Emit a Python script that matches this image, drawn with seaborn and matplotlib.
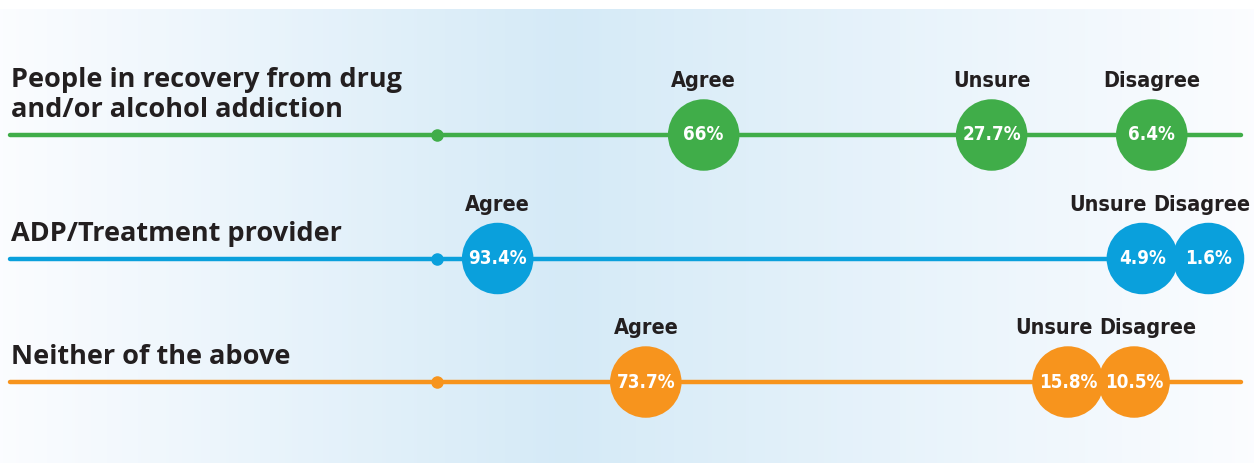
import numpy as np
import pandas as pd
import matplotlib.pyplot as plt
import seaborn as sns

# Survey results
groups = ["People in recovery from drug\nand/or alcohol addiction",
          "ADP/Treatment provider",
          "Neither of the above"]
answers = ["Agree", "Unsure", "Disagree"]
agree = [66.0, 93.4, 73.7]
unsure = [27.7, 4.9, 15.8]
disagree = [6.4, 1.6, 10.5]

colors = ["#40ad49", "#0aa0dc", "#f7941d"]
dark = "#231f20"

rows = []
for i, g in enumerate(groups):
    for a, vals in zip(answers, [agree, unsure, disagree]):
        rows.append({"row": i, "group": g, "answer": a, "value": vals[i]})
df = pd.DataFrame(rows)

# push apart circles that would overlap (value units)
min_gap = 8.8
df["pos"] = df["value"]
for i in range(len(groups)):
    sub = df[df["row"] == i].sort_values("value")
    p = sub["value"].tolist()
    idx = sub.index.tolist()
    for k in range(len(p) - 1):
        if p[k + 1] - p[k] < min_gap:
            mid = (p[k] + p[k + 1]) / 2
            p[k] = mid - min_gap / 2
            p[k + 1] = mid + min_gap / 2
    df.loc[idx, "pos"] = p

sns.set_theme(style="white")
label_font = ["DejaVu Sans"]
title_font = ["Open Sans", "DejaVu Sans"]

fig = plt.figure(figsize=(12.54, 4.66), dpi=100)
ax = fig.add_axes([0, 0, 1, 1])
ax.set_xlim(159.6, -7.2)
ax.set_ylim(2.68, -1.093)
ax.axis("off")

# background gradient band
xs = np.linspace(0, 1, 400)
peak = 0.45
w = np.where(xs < peak, xs / peak, (1 - xs) / (1 - peak))
c0 = np.array([0.985, 0.99, 1.0])
c1 = np.array([0.835, 0.918, 0.968])
grad = c0[None, :] + (c1 - c0)[None, :] * w[:, None]
ax.imshow(grad[None, :, :], extent=(159.6, -7.2, 2.655, -1.02),
          aspect="auto", zorder=0)

for i, g in enumerate(groups):
    ax.axhline(i, xmin=0.008, xmax=0.99, color=colors[i], lw=3.2, zorder=1)
    ax.plot(101.5, i, "o", color=colors[i], ms=8, zorder=2)
    ax.annotate(g, xy=(0.009, i), xycoords=("axes fraction", "data"),
                xytext=(0, 12), textcoords="offset pixels",
                ha="left", va="bottom", fontsize=19.5, fontweight="bold",
                color=dark, family=title_font, linespacing=1.2)

sns.scatterplot(data=df, x="pos", y="row", hue="row",
                palette=colors, s=2650, linewidth=0, legend=False,
                ax=ax, zorder=3)

labels = {i: [] for i in range(len(groups))}
for _, r in df.iterrows():
    ax.annotate(f"{r['value']:g}%", xy=(r["pos"], r["row"]),
                ha="center", va="center", fontsize=13.5, fontweight="bold",
                fontstretch="condensed",
                color="white", family=label_font, zorder=4)
    t = ax.annotate(r["answer"], xy=(r["pos"], r["row"]),
                    xytext=(0, 44), textcoords="offset pixels",
                    ha="center", va="bottom", fontsize=15.5, fontweight="bold",
                    fontstretch="condensed",
                    color=dark, family=label_font, zorder=4)
    labels[r["row"]].append(t)

# nudge answer labels apart so they don't collide
fig.canvas.draw()
renderer = fig.canvas.get_renderer()
W = fig.bbox.width
for i, ts in labels.items():
    ts = sorted(ts, key=lambda t: t.get_window_extent(renderer).x0)
    for a, b in zip(ts[:-1], ts[1:]):
        ea, eb = a.get_window_extent(renderer), b.get_window_extent(renderer)
        over = ea.x1 + 6 - eb.x0
        if over > 0:
            a.xyann = (a.xyann[0] - over / 2, a.xyann[1])
            b.xyann = (b.xyann[0] + over / 2, b.xyann[1])
    last = ts[-1].get_window_extent(renderer)
    spill = last.x1 - (W - 4)
    if spill > 0:
        for t in ts[-2:]:
            t.xyann = (t.xyann[0] - spill, t.xyann[1])

fig.savefig("out.png", dpi=100, facecolor="white")
